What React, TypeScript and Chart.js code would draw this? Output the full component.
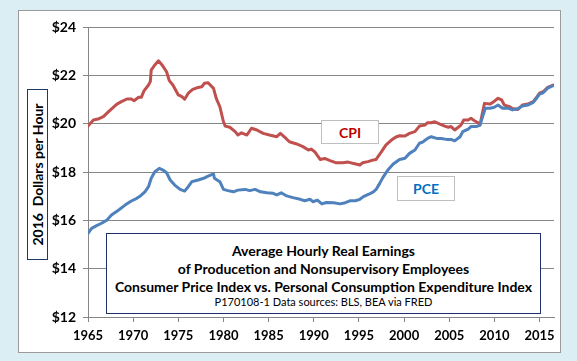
import React, { useEffect, useRef } from "react";
import { Chart, registerables } from "chart.js";

Chart.register(...registerables);

const cpiYears = [
  1965.0, 1965.6, 1966.1, 1966.7, 1967.4, 1968.2, 1968.7, 1969.3, 1969.8, 1970.1,
  1970.6, 1970.9, 1971.2, 1971.7, 1971.9, 1972.0, 1972.4, 1972.8, 1973.2, 1973.7,
  1974.0, 1974.4, 1975.0, 1975.4, 1975.7, 1976.1, 1976.6, 1977.2, 1977.6, 1977.9,
  1978.3, 1978.9, 1979.2, 1979.6, 1980.0, 1980.2, 1980.7, 1981.3, 1981.6, 1982.0,
  1982.6, 1983.1, 1983.7, 1984.4, 1985.1, 1985.9, 1986.3, 1986.8, 1987.3, 1988.1,
  1988.8, 1989.4, 1989.7, 1990.1, 1990.7, 1991.2, 1991.8, 1992.5, 1993.2, 1993.8,
  1994.3, 1995.1, 1995.4, 1996.0, 1996.6, 1996.9, 1997.5, 1998.0, 1998.6, 1999.1,
  1999.5, 2000.1, 2000.6, 2001.2, 2001.7, 2002.3, 2002.6, 2003.0, 2003.4, 2003.9,
  2004.5, 2004.9, 2005.2, 2005.6, 2006.0, 2006.3, 2006.6, 2007.1, 2007.4, 2007.8,
  2008.2, 2008.4, 2008.9, 2009.5, 2009.8, 2010.4, 2010.8, 2011.1, 2011.7, 2012.0,
  2012.6, 2013.1, 2013.7, 2014.3, 2014.6, 2015.0, 2015.4, 2015.9, 2016.5,
];
const cpiValues = [
  19.9, 20.15, 20.19, 20.29, 20.54, 20.81, 20.91, 21.02, 21.02, 20.95,
  21.09, 21.09, 21.36, 21.6, 21.74, 22.22, 22.43, 22.6, 22.43, 22.15,
  21.78, 21.6, 21.19, 21.12, 21.01, 21.26, 21.42, 21.5, 21.53, 21.67,
  21.69, 21.46, 21.05, 20.7, 20.08, 19.9, 19.85, 19.67, 19.53, 19.62,
  19.53, 19.81, 19.74, 19.6, 19.53, 19.46, 19.6, 19.43, 19.25, 19.16,
  19.05, 18.91, 18.95, 18.84, 18.52, 18.56, 18.47, 18.38, 18.38, 18.41,
  18.36, 18.29, 18.38, 18.43, 18.5, 18.52, 18.84, 19.12, 19.32, 19.45,
  19.5, 19.49, 19.6, 19.67, 19.9, 19.94, 20.04, 20.04, 20.08, 19.99,
  19.9, 19.85, 19.88, 19.74, 19.85, 19.94, 20.15, 20.15, 20.22, 20.12,
  20.04, 19.94, 20.84, 20.81, 20.87, 21.05, 20.98, 20.77, 20.7, 20.63,
  20.59, 20.77, 20.81, 20.91, 21.05, 21.26, 21.32, 21.5, 21.6,
];

const pceYears = [
  1965.0, 1965.4, 1965.9, 1966.5, 1967.1, 1967.6, 1968.4, 1969.1, 1969.8, 1970.4,
  1970.8, 1971.3, 1971.7, 1972.0, 1972.4, 1972.9, 1973.3, 1973.7, 1974.1, 1974.6,
  1975.2, 1975.7, 1976.1, 1976.5, 1977.2, 1977.8, 1978.3, 1978.9, 1979.0, 1979.6,
  1980.0, 1980.5, 1981.1, 1981.6, 1982.4, 1982.9, 1983.5, 1984.1, 1984.8, 1985.5,
  1985.9, 1986.4, 1987.0, 1987.7, 1988.5, 1989.0, 1989.6, 1989.9, 1990.4, 1990.9,
  1991.4, 1992.2, 1992.9, 1993.5, 1994.0, 1994.6, 1995.1, 1995.5, 1996.1, 1996.6,
  1996.9, 1997.3, 1997.7, 1998.2, 1998.8, 1999.5, 2000.1, 2000.6, 2001.2, 2001.7,
  2002.1, 2002.6, 2003.0, 2003.6, 2004.1, 2004.7, 2005.2, 2005.6, 2006.2, 2006.5,
  2007.1, 2007.4, 2008.0, 2008.4, 2008.7, 2009.0, 2009.5, 2010.0, 2010.4, 2010.9,
  2011.5, 2012.0, 2012.6, 2013.1, 2013.7, 2014.3, 2014.6, 2015.0, 2015.4, 2015.9,
  2016.5,
];
const pceValues = [
  15.46, 15.67, 15.77, 15.88, 16.01, 16.22, 16.43, 16.63, 16.8, 16.91,
  17.01, 17.18, 17.39, 17.74, 18.01, 18.15, 18.08, 17.97, 17.67, 17.46,
  17.28, 17.21, 17.39, 17.6, 17.67, 17.74, 17.83, 17.92, 17.74, 17.6,
  17.28, 17.23, 17.18, 17.25, 17.28, 17.23, 17.28, 17.18, 17.14, 17.12,
  17.05, 17.14, 17.01, 16.94, 16.87, 16.81, 16.87, 16.77, 16.84, 16.68,
  16.74, 16.73, 16.68, 16.73, 16.81, 16.81, 16.87, 16.98, 17.08, 17.18,
  17.28, 17.53, 17.8, 18.08, 18.33, 18.52, 18.57, 18.77, 18.91, 19.19,
  19.25, 19.39, 19.46, 19.39, 19.39, 19.35, 19.35, 19.29, 19.46, 19.67,
  19.77, 19.88, 19.88, 19.94, 20.29, 20.64, 20.64, 20.68, 20.77, 20.64,
  20.64, 20.57, 20.62, 20.73, 20.77, 20.88, 21.02, 21.22, 21.28, 21.47,
  21.57,
];

const xTickYears = [1965, 1970, 1975, 1980, 1985, 1990, 1995, 2000, 2005, 2010, 2015];
const yTickValues = [12, 14, 16, 18, 20, 22, 24];

const titleLines = [
  "Average Hourly Real Earnings",
  "of Producetion and Nonsupervisory Employees",
  "Consumer Price Index vs. Personal Consumption Expenditure Index",
];
const sourceNote = "P170108-1 Data sources: BLS, BEA via FRED";
const yAxisTitle = "2016\u00a0 Dollars per Hour";

const FONT = "Lato, 'Open Sans', 'DejaVu Sans', sans-serif";

export default function App() {
  const canvasRef = useRef<HTMLCanvasElement | null>(null);

  useEffect(() => {
    const canvas = canvasRef.current;
    if (!canvas) return;
    const chart = new Chart(canvas, {
      type: "line",
      data: {
        datasets: [
          {
            label: "PCE",
            data: pceYears.map((x, i) => ({ x, y: pceValues[i] })),
            borderColor: "#4F81BD",
            borderWidth: 3,
            pointRadius: 0,
            tension: 0,
            borderJoinStyle: "round",
            borderCapStyle: "round",
          },
          {
            label: "CPI",
            data: cpiYears.map((x, i) => ({ x, y: cpiValues[i] })),
            borderColor: "#C0504D",
            borderWidth: 3,
            pointRadius: 0,
            tension: 0,
            borderJoinStyle: "round",
            borderCapStyle: "round",
          },
        ],
      },
      options: {
        animation: false,
        responsive: false,
        devicePixelRatio: 1,
        layout: { padding: { top: 27, right: 23, left: 0, bottom: 0 } },
        plugins: {
          legend: { display: false },
          tooltip: { enabled: false },
        },
        scales: {
          x: {
            type: "linear",
            min: 1965,
            max: 2016.6,
            grid: {
              drawOnChartArea: false,
              drawTicks: true,
              tickLength: 5,
              color: "#868686",
            },
            border: { display: true, color: "#868686", width: 1 },
            ticks: {
              color: "#000",
              font: { family: FONT, weight: "bold", size: 13 },
              padding: 6,
              maxRotation: 0,
              autoSkip: false,
              callback: (v: any) => String(v),
            },
            afterBuildTicks: (scale: any) => {
              scale.ticks = xTickYears.map((v) => ({ value: v }));
            },
            afterFit: (scale: any) => {
              scale.height = 44;
            },
          },
          y: {
            type: "linear",
            min: 12,
            max: 24,
            grid: {
              drawOnChartArea: true,
              drawTicks: true,
              tickLength: 5,
              color: "#868686",
            },
            border: { display: true, color: "#868686", width: 1 },
            ticks: {
              color: "#000",
              font: { family: FONT, weight: "bold", size: 14 },
              padding: 7,
              callback: (v: any) => "$" + v,
            },
            afterBuildTicks: (scale: any) => {
              scale.ticks = yTickValues.map((v) => ({ value: v }));
            },
            afterFit: (scale: any) => {
              scale.width = 88;
            },
          },
        },
      },
    } as any);
    return () => chart.destroy();
  }, []);

  const boxText: React.CSSProperties = {
    position: "absolute",
    fontFamily: FONT,
    fontWeight: "bold",
    boxSizing: "border-box",
    display: "flex",
    alignItems: "center",
    justifyContent: "center",
    whiteSpace: "nowrap",
  };

  return (
    <div
      style={{
        position: "fixed",
        left: 0,
        top: 0,
        width: 577,
        height: 361,
        background: "#DBEEF4",
        overflow: "hidden",
      }}
    >
      <div
        style={{
          position: "absolute",
          left: 18,
          top: 10,
          width: 543,
          height: 343,
          boxSizing: "border-box",
          background: "#fff",
          border: "1.5px solid #9A9A9A",
        }}
      />
      <canvas
        ref={canvasRef}
        width={577}
        height={361}
        style={{ position: "absolute", left: 0, top: 0, width: 577, height: 361 }}
      />
      <div
        style={{
          ...boxText,
          left: 27,
          top: 89,
          width: 21,
          height: 171,
          border: "1.5px solid #1F3864",
          background: "#fff",
        }}
      >
        <span
          style={{
            display: "inline-block",
            transform: "rotate(-90deg)",
            fontSize: 14,
            color: "#000",
          }}
        >
          {yAxisTitle}
        </span>
      </div>
      <div
        style={{
          ...boxText,
          left: 321,
          top: 120,
          width: 58,
          height: 24,
          border: "1.5px solid #BFBFBF",
          background: "#fff",
          color: "#C00000",
          fontSize: 14,
        }}
      >
        CPI
      </div>
      <div
        style={{
          ...boxText,
          left: 397,
          top: 176,
          width: 58,
          height: 25,
          border: "1.5px solid #BFBFBF",
          background: "#fff",
          color: "#0070C0",
          fontSize: 14,
        }}
      >
        PCE
      </div>
      <div
        style={{
          position: "absolute",
          left: 106,
          top: 233,
          width: 435,
          height: 81,
          boxSizing: "border-box",
          border: "1.5px solid #1F2F6B",
          background: "#fff",
          fontFamily: FONT,
          color: "#000",
          textAlign: "center",
          whiteSpace: "nowrap",
        }}
      >
        {titleLines.map((t, i) => (
          <div
            key={i}
            style={{
              position: "absolute",
              left: 0,
              right: 0,
              top: 8 + i * 18,
              fontSize: 14,
              fontWeight: "bold",
              lineHeight: "18px",
            }}
          >
            {t}
          </div>
        ))}
        <div
          style={{
            position: "absolute",
            left: 0,
            right: 0,
            top: 61,
            fontSize: 11,
            lineHeight: "14px",
          }}
        >
          {sourceNote}
        </div>
      </div>
    </div>
  );
}
